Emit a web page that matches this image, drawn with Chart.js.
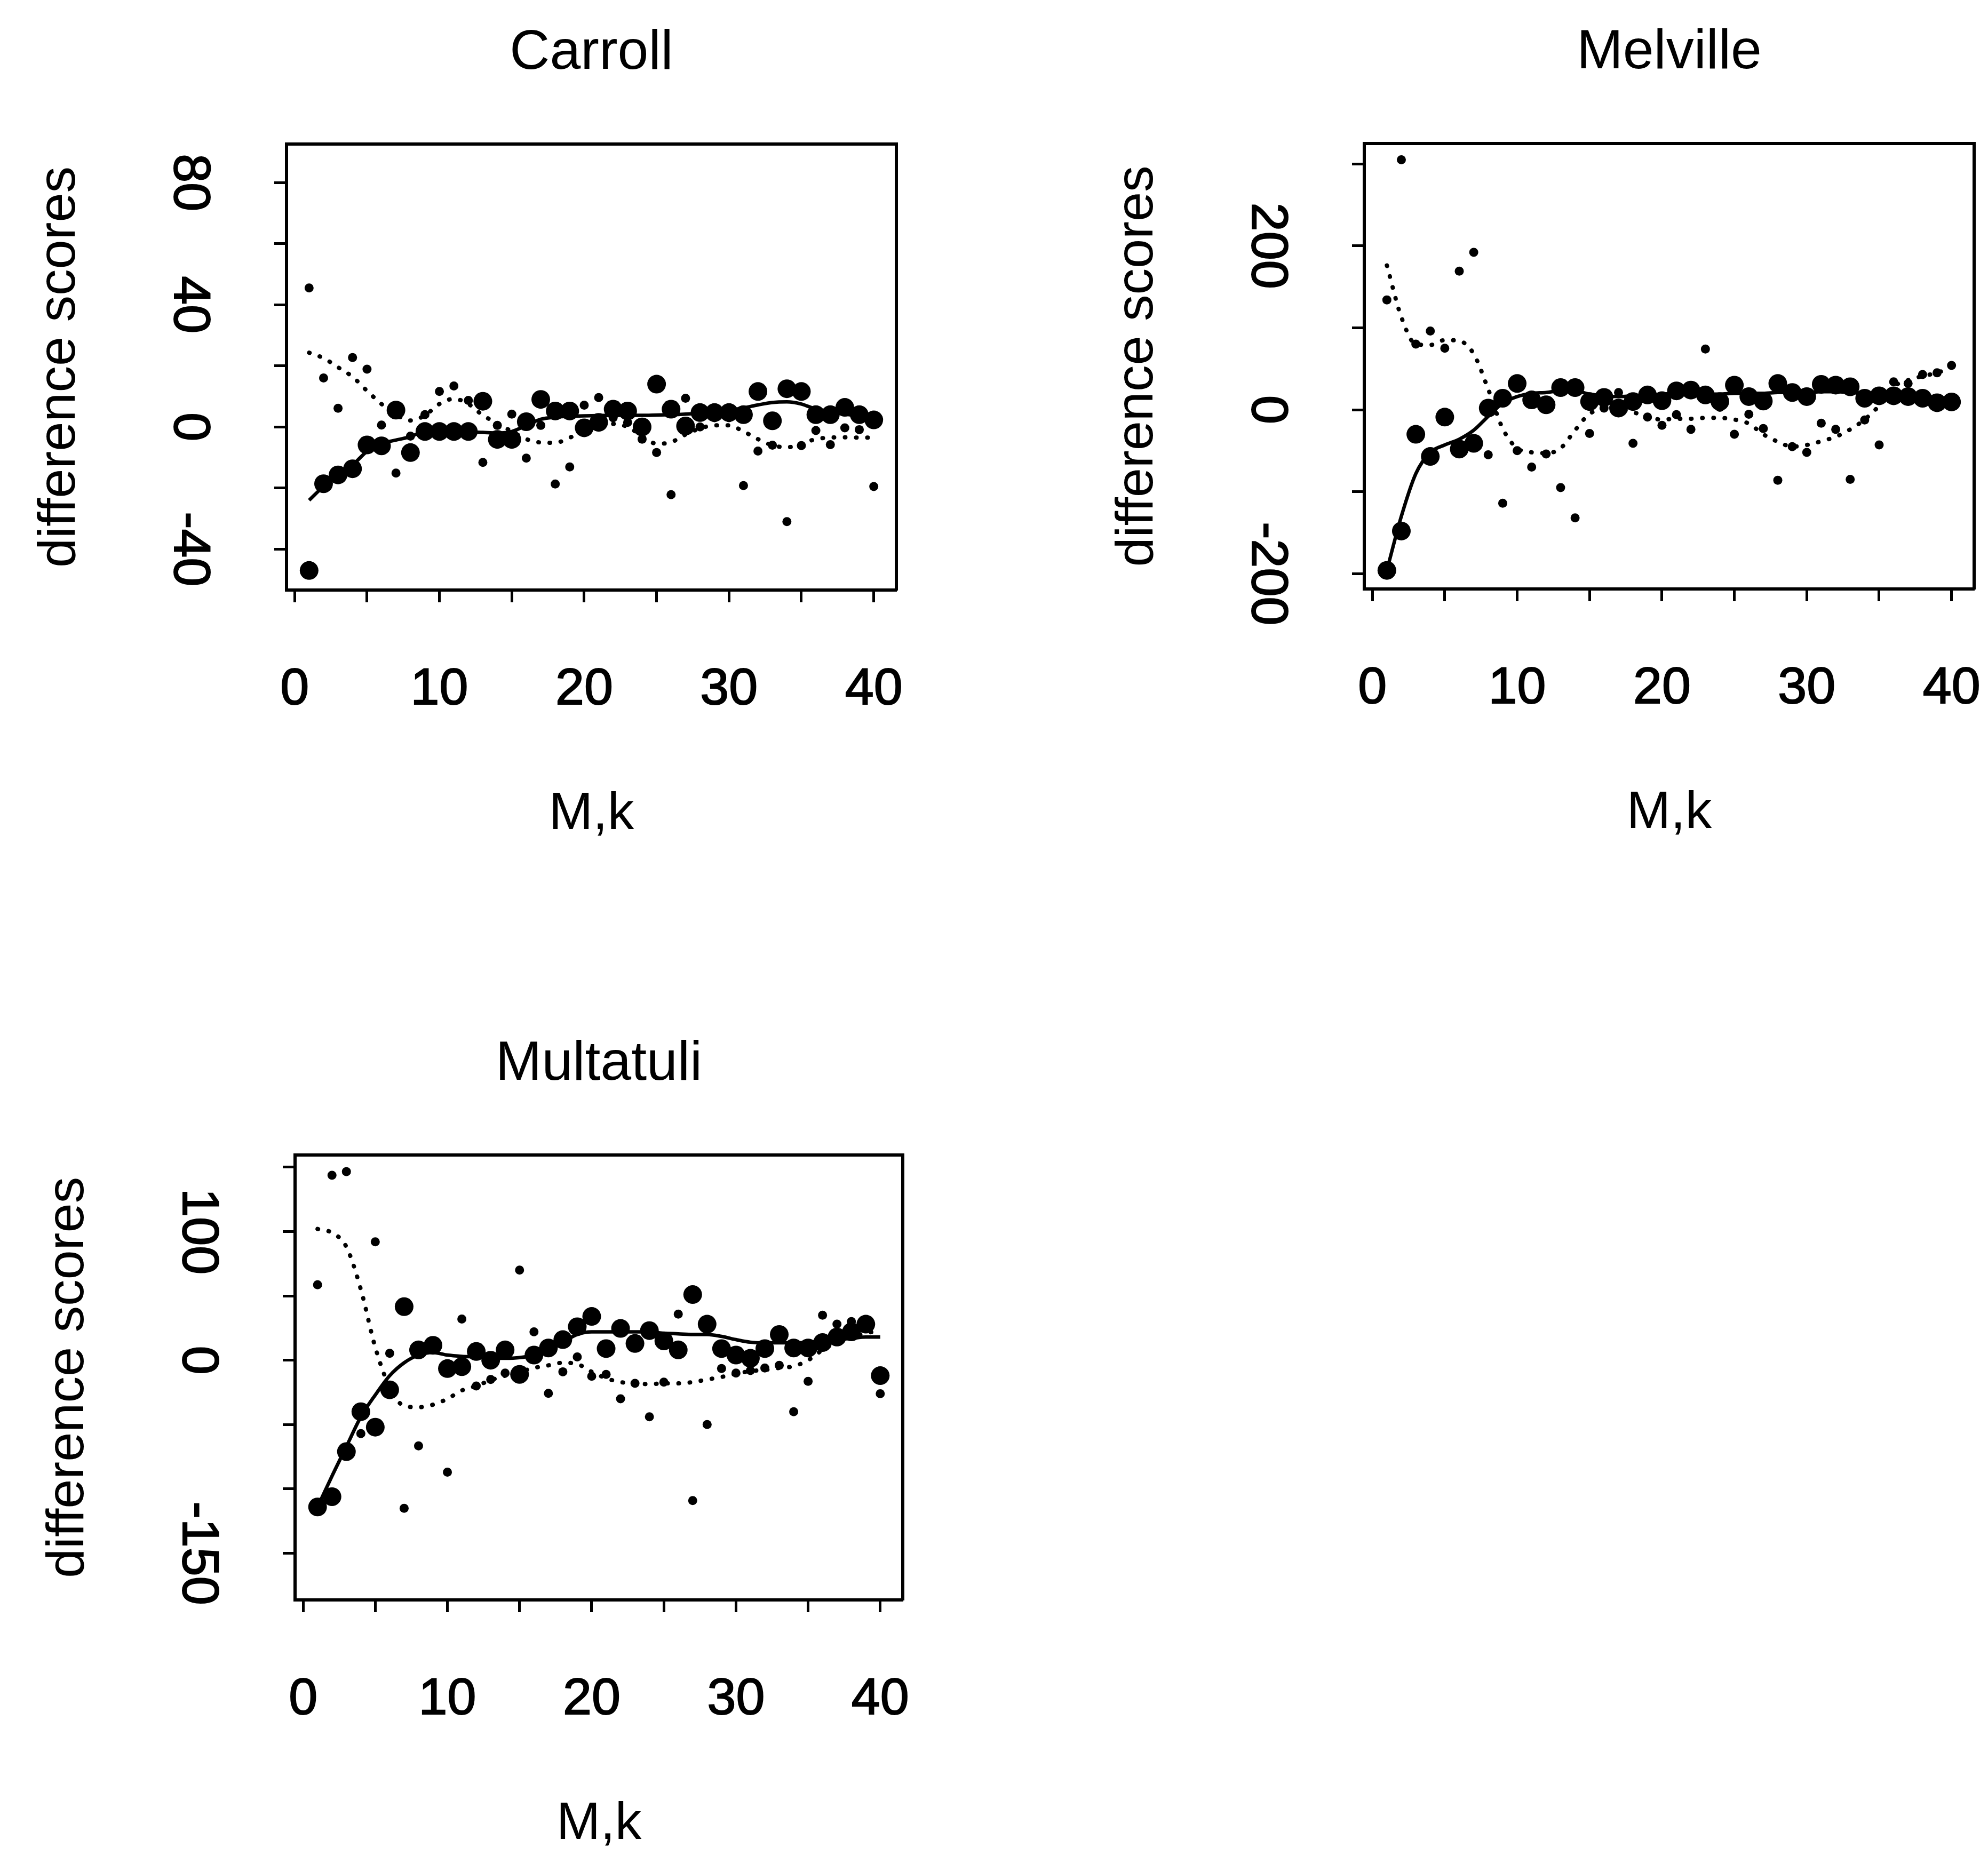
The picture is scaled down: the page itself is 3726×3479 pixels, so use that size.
<!DOCTYPE html>
<html>
<head>
<meta charset="utf-8">
<script src="https://cdn.jsdelivr.net/npm/chart.js@4.4.1/dist/chart.umd.min.js"></script>
<style>
html, body { margin: 0; padding: 0; background: #ffffff; overflow: hidden; width: 3726px; height: 3479px; }
canvas { position: absolute; }
</style>
</head>
<body>
<canvas id="carroll" width="1863" height="1740" style="left:0px;top:0px;width:1863px;height:1740px"></canvas>
<canvas id="melville" width="1863" height="1740" style="left:1863px;top:0px;width:1863px;height:1740px"></canvas>
<canvas id="multatuli" width="1863" height="1739" style="left:0px;top:1740px;width:1863px;height:1739px"></canvas>
<script>
// ---------- data ----------
const mk = [1,2,3,4,5,6,7,8,9,10,11,12,13,14,15,16,17,18,19,20,21,22,23,24,25,26,27,28,29,30,31,32,33,34,35,36,37,38,39,40];
const xTicks = [0,5,10,15,20,25,30,35,40];
const xLabels = [0,10,20,30,40];

const carrollBig = [-47,-18.6,-15.7,-13.7,-5.9,-6.2,5.5,-8.4,-1.5,-1.5,-1.5,-1.5,8.4,-4.1,-4.1,1.7,9,5.2,5.2,-0.3,1.5,5.8,5.2,0,14,5.8,0.3,4.7,4.7,4.7,4,11.6,2,12.5,11.6,4,4,6.4,4,2.3];
const carrollSmall = [45.5,16,6.1,22.7,18.9,0.6,-15.1,-3,4,11.6,13.4,8.7,-11.6,0.5,4.2,-10.2,0.5,-18.7,-13.1,7.1,9.6,3,1.5,-4,-8.4,-22.2,9.4,0,3,3,-19.2,-7.9,-6,-31,-6.1,-1.2,-5.8,-0.3,-0.9,-19.5];
const carrollSmoothBig = [-24,-19.5,-16,-12.5,-8,-5.5,-4.3,-3.2,-1.5,-1.5,-1.5,-1.6,-1.8,-2,-1.5,0.5,2.5,3.2,3.5,3.6,3.7,3.8,3.8,3.8,3.9,4,4.2,4.5,5,5.5,6.2,7.2,8,8.2,7.5,5.8,4.8,4.2,3.5,2.8];
const carrollSmoothSmall = [24.3,22.5,19.5,16.4,11.8,7.5,4,2.1,3.8,7.5,9.2,7.5,3.8,1.2,-1.5,-4,-5.1,-5.2,-3.5,-1.5,0.5,1,0,-3,-5.5,-5,-2.5,-0.5,0.5,0.5,-1.5,-4,-6,-6.7,-5.5,-4,-3.5,-3.4,-3.5,-3.5];
const carrollYTicks = [-40,-20,0,20,40,60,80];
const carrollYLabels = [-40,0,40,80];

const melvilleBig = [-196,-148,-30,-57,-9,-48,-41,2,14,32,12,6,27,27,10,15,2,10,18,11,23,24,18,10,30,16,10.6,32,21,16,31,30,28,14,17,17,16,14,8.5,9.5];
const melvilleSmall = [134,305,80,96,75,169,192,-55,-114,-50,-70,-54,-95,-132,-29,2,21,-41,-9,-19,-6,-24,74,3,-30,-5.5,-23,-86,-45,-52,-16.5,-24,-85,-12.6,-43,34,32,43,45,54];
const melvilleSmoothBig = [-196,-130,-78,-52,-43,-36,-25,-8,8,16,20,21,23,23,19,17,16,17,18,19,20,20,19,19,20,20,20,21,21,21,22,22,21,20,19,18,17,16,14,12];
const melvilleSmoothSmall = [176,113,80,79,85,84,68,25,-23,-47,-52,-53,-47,-25,-5,0,0,-3,-9,-12,-11,-11,-10,-10,-12,-17,-30,-39,-45,-43,-38.5,-33,-24,-12,5,28,36,41,45,52];
const melvilleYTicks = [-200,-100,0,100,200,300];
const melvilleYLabels = [-200,0,200];

const multatuliBig = [-114,-106,-71,-40,-52,-23,41.6,8,11.6,-6.5,-5,6.8,0,8,-11,4,9.5,16,26,34,9,24.7,13,23,15,8,51,28,9,4,1.5,9,20,9.5,9.5,13.7,18,22,28,-12];
const multatuliSmall = [58.6,143.7,146.5,-57,92,5.4,-115,-66.5,10,-87,32,-20,-15,-10,70,22,-25.7,-9,2.6,-12.5,-11,-30,-18,-44,-17,35.8,-109,-50,-6.5,-10,-8,-6,-4,-40,-16.4,35,28,30,28,-26];
const multatuliSmoothBig = [-114,-90,-67,-44,-27,-12,-2,4,6,4,3,2.5,1.5,1.5,2,4,8,14,20,22,22,22,22,22,21,20.5,20,20,18.5,16,14,13.5,13.5,13.5,14,15,16,17,18,18];
const multatuliSmoothSmall = [102,99,88,55,10,-21,-35.5,-36.5,-34.5,-30,-23.5,-20,-15.5,-12,-9,-6,-4,-2,-3,-9,-14,-17,-18,-18.6,-18,-18,-17,-15,-13,-10.5,-8.5,-7.5,-6,-4.7,0,8,14,18,21,23];
const multatuliYTicks = [-150,-100,-50,0,50,100,150];
const multatuliYLabels = [-150,0,100];

// ---------- drawing ----------
const FONT = '"Liberation Sans", Arial, Helvetica, sans-serif';
const K = 0.30;      // distance from text middle to alphabetic baseline (fraction of font size)
const TL = 23;       // tick length
const TICK_SIZE = 97;
const LABEL_SIZE = 99;
const TITLE_SIZE = 104;
Chart.defaults.font.family = FONT;
Chart.defaults.color = '#000';

function pts(vals) { return mk.map((x, i) => ({ x: x, y: vals[i] })); }

function makePanel(id, cfg) {
  const W = cfg.W, H = cfg.H, p = cfg.plot;
  const m = document.createElement('canvas').getContext('2d');
  m.font = TICK_SIZE + 'px ' + FONT;
  const widest = Math.max.apply(null, cfg.yLabels.map(v => m.measureText(String(v)).width));
  const digitCentreShift = TICK_SIZE * K - 0.358 * TICK_SIZE;
  const yPad = 189 + digitCentreShift - TL - widest / 2;
  const xLH = 2 * (216 - TICK_SIZE * K - TL) / TICK_SIZE;
  const axisLine = { display: true, color: '#000', width: 6 };
  const tickGrid = { display: true, drawOnChartArea: false, drawTicks: true, tickLength: TL, tickWidth: 5, tickColor: '#000' };

  new Chart(document.getElementById(id), {
    type: 'scatter',
    data: {
      datasets: [
        { data: pts(cfg.big), pointRadius: 17.5, pointHoverRadius: 17.5, pointBackgroundColor: '#000', pointBorderWidth: 0, showLine: false },
        { data: pts(cfg.small), pointRadius: 8.5, pointHoverRadius: 8.5, pointBackgroundColor: '#000', pointBorderWidth: 0, showLine: false },
        { type: 'line', data: pts(cfg.smoothBig), borderColor: '#000', borderWidth: 6.5, pointRadius: 0, fill: false, cubicInterpolationMode: 'monotone' },
        { type: 'line', data: pts(cfg.smoothSmall), borderColor: '#000', borderWidth: 8, borderDash: [1, 20], borderCapStyle: 'round', pointRadius: 0, fill: false, cubicInterpolationMode: 'monotone' }
      ]
    },
    options: {
      responsive: false,
      animation: false,
      devicePixelRatio: 1,
      events: [],
      layout: { padding: { left: 0, top: 0, right: W - p.r, bottom: 0 } },
      plugins: { legend: { display: false }, tooltip: { enabled: false }, title: { display: false } },
      scales: {
        x: {
          type: 'linear', position: 'bottom', min: -0.56, max: 41.56,
          afterBuildTicks: s => { s.ticks = xTicks.map(v => ({ value: v })); },
          ticks: { autoSkip: false, minRotation: 0, maxRotation: 0, padding: 0, color: '#000',
                   textStrokeColor: '#000', textStrokeWidth: 2,
                   font: { family: FONT, size: TICK_SIZE, lineHeight: xLH },
                   callback: v => (xLabels.indexOf(v) >= 0 ? String(v) : '') },
          grid: tickGrid, border: axisLine,
          title: { display: true, text: 'M,k', color: '#000', font: { family: FONT, size: LABEL_SIZE, lineHeight: 1 },
                   padding: { top: 0, bottom: (H - p.b) - (450 - LABEL_SIZE * K) - LABEL_SIZE / 2 } },
          afterFit: s => { s.height = H - p.b; }
        },
        x2: {
          type: 'linear', position: 'top', display: true,
          ticks: { display: false }, grid: { display: false }, border: axisLine,
          title: { display: true, text: cfg.title, color: '#000', font: { family: FONT, size: TITLE_SIZE, lineHeight: 1 },
                   padding: { top: p.t - 138 - TITLE_SIZE * K - TITLE_SIZE / 2, bottom: 0 } },
          afterFit: s => { s.height = p.t; }
        },
        y: {
          type: 'linear', position: 'left', min: cfg.yMin, max: cfg.yMax,
          afterBuildTicks: s => { s.ticks = cfg.yTicks.map(v => ({ value: v })); },
          ticks: { autoSkip: false, minRotation: -90, maxRotation: -90, crossAlign: 'center', padding: yPad, color: '#000',
                   textStrokeColor: '#000', textStrokeWidth: 2,
                   font: { family: FONT, size: TICK_SIZE, lineHeight: 1 },
                   callback: v => (cfg.yLabels.indexOf(v) >= 0 ? String(v) : '') },
          grid: tickGrid, border: axisLine,
          title: { display: true, text: 'difference scores', color: '#000', font: { family: FONT, size: LABEL_SIZE, lineHeight: 1 },
                   padding: { top: p.l - 395 - LABEL_SIZE * K - LABEL_SIZE / 2, bottom: 0 } },
          afterFit: s => { s.width = p.l; }
        },
        y2: {
          type: 'linear', position: 'right', display: true,
          ticks: { display: false }, grid: { display: false }, border: axisLine,
          afterFit: s => { s.width = 0; }
        }
      }
    }
  });
}

makePanel('carroll', { W: 1863, H: 1740, plot: { l: 537, t: 270, r: 1680, b: 1106 }, title: 'Carroll',
  big: carrollBig, small: carrollSmall, smoothBig: carrollSmoothBig, smoothSmall: carrollSmoothSmall,
  yMin: -53.4, yMax: 92.6, yTicks: carrollYTicks, yLabels: carrollYLabels });

makePanel('melville', { W: 1863, H: 1740, plot: { l: 694, t: 269, r: 1837, b: 1104 }, title: 'Melville',
  big: melvilleBig, small: melvilleSmall, smoothBig: melvilleSmoothBig, smoothSmall: melvilleSmoothSmall,
  yMin: -218.7, yMax: 324.8, yTicks: melvilleYTicks, yLabels: melvilleYLabels });

makePanel('multatuli', { W: 1863, H: 1739, plot: { l: 553, t: 425, r: 1692, b: 1259 }, title: 'Multatuli',
  big: multatuliBig, small: multatuliSmall, smoothBig: multatuliSmoothBig, smoothSmall: multatuliSmoothSmall,
  yMin: -186.2, yMax: 159.4, yTicks: multatuliYTicks, yLabels: multatuliYLabels });
</script>
</body>
</html>
